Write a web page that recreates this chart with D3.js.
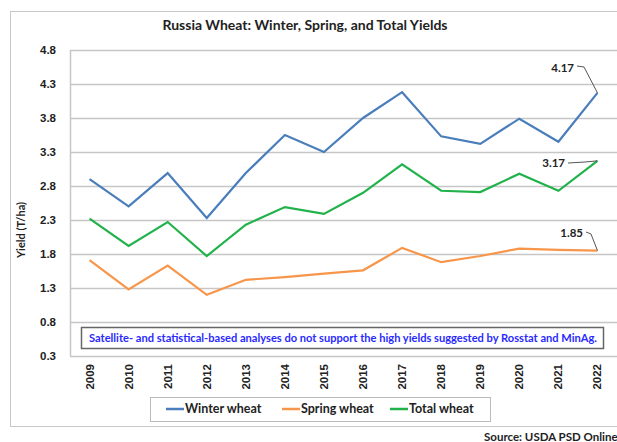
<!DOCTYPE html>
<html>
<head>
<meta charset="utf-8">
<script src="https://cdn.jsdelivr.net/npm/d3@7"></script>
<style>
  body { margin: 0; background: #fff; }
  svg { display: block; font-family: Lato, 'Open Sans', sans-serif; }
</style>
</head>
<body>
<svg id="chart" width="617" height="442"></svg>
<script>
const years = ['2009', '2010', '2011', '2012', '2013', '2014', '2015', '2016', '2017', '2018', '2019', '2020', '2021', '2022']
const winter = [2.90, 2.50, 2.99, 2.33, 2.99, 3.55, 3.30, 3.80, 4.18, 3.53, 3.42, 3.79, 3.45, 4.17]
const spring = [1.71, 1.28, 1.63, 1.20, 1.42, 1.46, 1.51, 1.56, 1.89, 1.68, 1.77, 1.88, 1.86, 1.85]
const total = [2.32, 1.92, 2.27, 1.77, 2.23, 2.49, 2.39, 2.70, 3.12, 2.73, 2.71, 2.98, 2.73, 3.17]
const yTicks = [0.3, 0.8, 1.3, 1.8, 2.3, 2.8, 3.3, 3.8, 4.3, 4.8]

const series = [
  { name: 'Winter wheat', values: winter, color: '#4a7ebb' },
  { name: 'Spring wheat', values: spring, color: '#f7964a' },
  { name: 'Total wheat', values: total, color: '#22b24c' }
]

const svg = d3.select('#chart')

// outer chart border
svg.append('rect')
  .attr('x', 10.5).attr('y', 11.5)
  .attr('width', 640).attr('height', 415)
  .attr('fill', 'none').attr('stroke', '#c8c8c8')

const x = d3.scaleBand().domain(years).range([70, 617])
const y = d3.scaleLinear().domain([0.3, 4.8]).range([356, 50])

// gridlines
svg.append('g')
  .selectAll('line')
  .data(yTicks)
  .join('line')
  .attr('x1', 70).attr('x2', 617)
  .attr('y1', d => Math.round(y(d)) + 0.5)
  .attr('y2', d => Math.round(y(d)) + 0.5)
  .attr('stroke', '#c6c6c6')
  .attr('stroke-width', 1.5)

svg.append('line')
  .attr('x1', 70.5).attr('x2', 70.5)
  .attr('y1', 50).attr('y2', 356)
  .attr('stroke', '#c6c6c6').attr('stroke-width', 1.5)

// y axis
const yAxis = svg.append('g')
  .attr('transform', 'translate(70,0)')
  .call(d3.axisLeft(y).tickValues(yTicks).tickFormat(d3.format('.1f')).tickSize(0).tickPadding(14))
yAxis.select('.domain').remove()
yAxis.selectAll('text')
  .attr('font-size', 11.5).attr('font-weight', 'bold').attr('fill', '#222')

// x axis, rotated labels
const xAxis = svg.append('g')
  .attr('transform', 'translate(0,356)')
  .call(d3.axisBottom(x).tickSize(0))
xAxis.select('.domain').remove()
xAxis.selectAll('text')
  .attr('font-size', 11.5).attr('font-weight', 'bold').attr('fill', '#222')
  .attr('text-anchor', 'end')
  .attr('transform', 'rotate(-90)')
  .attr('x', -8).attr('y', 0).attr('dy', '0.35em')

// lines
const line = d3.line()
  .x((d, i) => x(years[i]) + x.bandwidth() / 2)
  .y(d => y(d))

svg.append('g')
  .selectAll('path')
  .data(series)
  .join('path')
  .attr('d', d => line(d.values))
  .attr('fill', 'none')
  .attr('stroke', d => d.color)
  .attr('stroke-width', 2.2)
  .attr('stroke-linejoin', 'miter')

// end labels with leader lines
const lastX = x(years[years.length - 1]) + x.bandwidth() / 2
const endLabels = [
  { value: winter[winter.length - 1], tx: 574, ty: 68, path: [[577, 66], [584, 67]] },
  { value: total[total.length - 1], tx: 565, ty: 163, path: [[568, 163], [585, 162]] },
  { value: spring[spring.length - 1], tx: 583, ty: 233, path: [[586, 232], [591, 234]] }
]
endLabels.forEach(l => {
  const pts = l.path.concat([[lastX, y(l.value)]])
  svg.append('path')
    .attr('d', d3.line()(pts))
    .attr('fill', 'none').attr('stroke', '#555').attr('stroke-width', 1)
  svg.append('text')
    .attr('x', l.tx).attr('y', l.ty).attr('dy', '0.35em')
    .attr('text-anchor', 'end')
    .attr('font-size', 11.5).attr('font-weight', 'bold').attr('fill', '#222')
    .text(l.value.toFixed(2))
})

// note box
svg.append('rect')
  .attr('x', 81.5).attr('y', 327.5).attr('width', 522).attr('height', 21)
  .attr('fill', '#fff').attr('stroke', '#666').attr('stroke-width', 1.5)
svg.append('text')
  .attr('x', 343).attr('y', 338).attr('dy', '0.35em')
  .attr('text-anchor', 'middle')
  .attr('font-size', 10.8).attr('font-weight', 'bold').attr('fill', '#2a2aff')
  .attr('textLength', 508).attr('lengthAdjust', 'spacingAndGlyphs')
  .text('Satellite- and statistical-based analyses do not support the high yields suggested by Rosstat and MinAg.')

// title
svg.append('text')
  .attr('x', 305).attr('y', 25).attr('dy', '0.35em')
  .attr('text-anchor', 'middle')
  .attr('font-size', 14).attr('font-weight', 'bold').attr('fill', '#222')
  .text('Russia Wheat: Winter, Spring, and Total Yields')

// y axis title
svg.append('text')
  .attr('transform', 'translate(21,230) rotate(-90)')
  .attr('dy', '0.35em')
  .attr('text-anchor', 'middle')
  .attr('font-size', 11).attr('font-weight', 'bold').attr('fill', '#222')
  .text('Yield (T/ha)')

// legend
svg.append('rect')
  .attr('x', 150.5).attr('y', 397.5).attr('width', 340).attr('height', 24)
  .attr('fill', '#fff').attr('stroke', '#bbb')
const legendX = [166, 282, 390]
const lg = svg.append('g')
  .selectAll('g')
  .data(series)
  .join('g')
  .attr('transform', (d, i) => `translate(${legendX[i]},409)`)
lg.append('line')
  .attr('x1', 0).attr('x2', 18)
  .attr('stroke', d => d.color).attr('stroke-width', 2.5)
lg.append('text')
  .attr('x', 19).attr('dy', '0.35em')
  .attr('font-size', 12.5).attr('font-weight', 'bold').attr('fill', '#222')
  .text(d => d.name)

// source
svg.append('text')
  .attr('x', 484).attr('y', 437).attr('dy', '0.35em')
  .attr('font-size', 11.5).attr('font-weight', 'bold').attr('fill', '#222')
  .text('Source: USDA PSD Online')
</script>
</body>
</html>
